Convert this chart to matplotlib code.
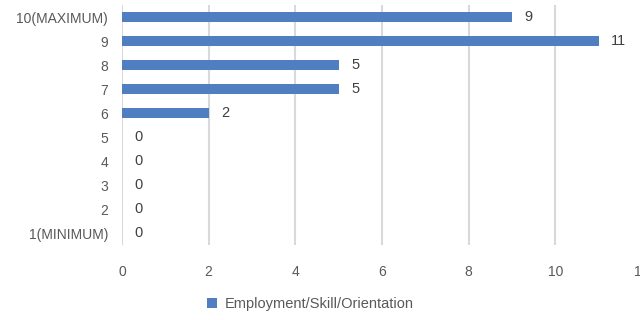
import matplotlib.pyplot as plt
import numpy as np

plt.rcParams['font.family'] = ['Liberation Sans', 'DejaVu Sans']

categories = ["10(MAXIMUM)", "9", "8", "7", "6", "5", "4", "3", "2", "1(MINIMUM)"]
values = [9, 11, 5, 5, 2, 0, 0, 0, 0, 0]
series_name = "Employment/Skill/Orientation"
xticks = [0, 2, 4, 6, 8, 10, 12]

text_col = "#595959"
bar_col = "#4F7FC0"

fig = plt.figure(figsize=(6.4, 3.2), dpi=100)
ax = fig.add_axes([0.1906, 0.234, 0.8125, 0.75])

y = np.arange(len(categories))[::-1]
bars = ax.barh(y, values, height=0.4, color=bar_col, label=series_name, zorder=3)
ax.bar_label(bars, padding=9, color="#404040", fontsize=10.5)

ax.set_yticks(y)
ax.set_yticklabels(categories)
ax.set_xticks(xticks)
ax.set_xlim(0, 12)
ax.set_ylim(-0.5, len(categories) - 0.5)
ax.grid(axis="x", color="#D9D9D9", linewidth=1.5, zorder=0)
ax.tick_params(length=0, colors=text_col, labelsize=10)
ax.tick_params(axis="x", pad=14)
ax.tick_params(axis="y", pad=10)
for s in ax.spines.values():
    s.set_visible(False)

fig.legend(loc="center", bbox_to_anchor=(0.485, 0.05), frameon=False,
           fontsize=10.5, labelcolor=text_col, handlelength=0.7, handleheight=0.7,
           handletextpad=0.5)

fig.savefig("out.png", dpi=100)
